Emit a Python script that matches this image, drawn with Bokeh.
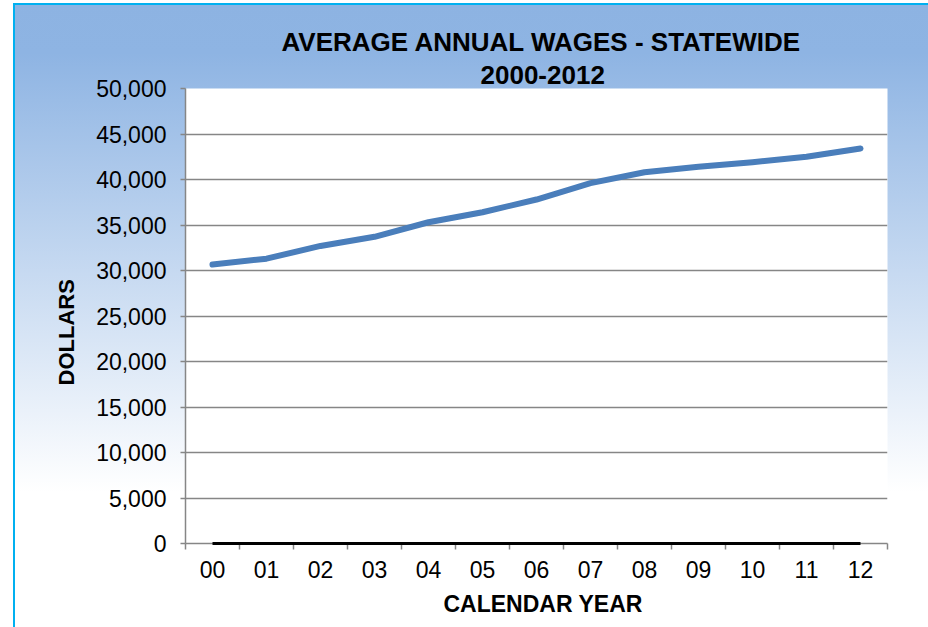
from bokeh.plotting import figure
from bokeh.models import Title, FixedTicker, NumeralTickFormatter, Range1d
from bokeh.embed import file_html
from bokeh.resources import INLINE

years = ["00", "01", "02", "03", "04", "05", "06", "07", "08", "09", "10", "11", "12"]
avg_wages = [30650, 31300, 32700, 33700, 35300, 36400, 37800, 39600, 40800, 41400, 41900, 42500, 43400]
baseline_series = [0, 0, 0, 0, 0, 0, 0, 0, 0, 0, 0, 0, 0]
y_ticks = [0, 5000, 10000, 15000, 20000, 25000, 30000, 35000, 40000, 45000, 50000]

title_line1 = "AVERAGE ANNUAL WAGES - STATEWIDE"
title_line2 = "2000-2012"
x_title = "CALENDAR YEAR"
y_title = "DOLLARS"

FONT = "Liberation Sans"
W, H = 928, 627

xs = list(range(len(years)))

p = figure(width=W, height=H, output_backend="svg", toolbar_location=None,
           x_range=Range1d(-0.5, len(years) - 0.5), y_range=Range1d(0, 50000),
           min_border_left=185, min_border_right=41, min_border_top=88, min_border_bottom=84)

p.background_fill_color = "white"
p.border_fill_alpha = 0
p.outline_line_color = None
p.styles = {
    "background": (
        "linear-gradient(#00B0F0, #00B0F0) 13px 3px / 2px 100% no-repeat, "
        "linear-gradient(#00B0F0, #00B0F0) 13px 3px / 100% 2px no-repeat, "
        "linear-gradient(to bottom, #8DB3E2 0%, #8EB4E3 8%, #FFFFFF 78%, #FFFFFF 100%) 13px 3px / 100% 100% no-repeat, "
        "#FFFFFF"
    )
}

# axes
p.xaxis.ticker = FixedTicker(ticks=xs, minor_ticks=[i - 0.5 for i in range(len(years) + 1)])
p.xaxis.major_label_overrides = {i: y for i, y in enumerate(years)}
p.xaxis.major_tick_out = 0
p.xaxis.major_tick_in = 0
p.xaxis.minor_tick_out = 6
p.xaxis.minor_tick_in = 0
p.xaxis.minor_tick_line_color = "#868686"
p.xaxis.minor_tick_line_width = 1.5
p.xaxis.axis_line_color = "#868686"
p.xaxis.axis_line_width = 1.5
p.xaxis.major_label_text_font = FONT
p.xaxis.major_label_text_font_size = "23px"
p.xaxis.major_label_text_color = "black"
p.xaxis.major_label_standoff = 11

p.yaxis.ticker = FixedTicker(ticks=y_ticks)
p.yaxis.formatter = NumeralTickFormatter(format="0,0")
p.yaxis.major_tick_out = 5
p.yaxis.major_tick_in = 0
p.yaxis.minor_tick_out = 0
p.yaxis.minor_tick_in = 0
p.yaxis.major_tick_line_color = "#868686"
p.yaxis.major_tick_line_width = 1.5
p.yaxis.axis_line_color = "#868686"
p.yaxis.axis_line_width = 1.5
p.yaxis.major_label_text_font = FONT
p.yaxis.major_label_text_font_size = "23px"
p.yaxis.major_label_text_color = "black"
p.yaxis.major_label_standoff = 14

p.xgrid.grid_line_color = None
p.ygrid.ticker = FixedTicker(ticks=y_ticks)
p.ygrid.grid_line_color = "#868686"
p.ygrid.grid_line_width = 1.5

# data
p.line(xs, baseline_series, line_color="black", line_width=3, level="overlay")
p.line(xs, avg_wages, line_color="#4A7EBB", line_width=6, line_cap="round", line_join="round")

# texts (titles)
p.add_layout(Title(text=title_line2, align="left", offset=295, standoff=10,
                   text_font=FONT, text_font_size="26px", text_font_style="bold",
                   text_color="black"), "above")
p.add_layout(Title(text=title_line1, align="left", offset=96, standoff=4,
                   text_font=FONT, text_font_size="26px", text_font_style="bold",
                   text_color="black"), "above")
p.add_layout(Title(text=x_title, align="left", offset=258, standoff=17,
                   text_font=FONT, text_font_size="23px", text_font_style="bold",
                   text_color="black"), "below")
p.add_layout(Title(text=y_title, align="left", offset=158, standoff=30,
                   text_font=FONT, text_font_size="22px", text_font_style="bold",
                   text_color="black"), "left")

open("out.html", "w").write(file_html(p, INLINE))
